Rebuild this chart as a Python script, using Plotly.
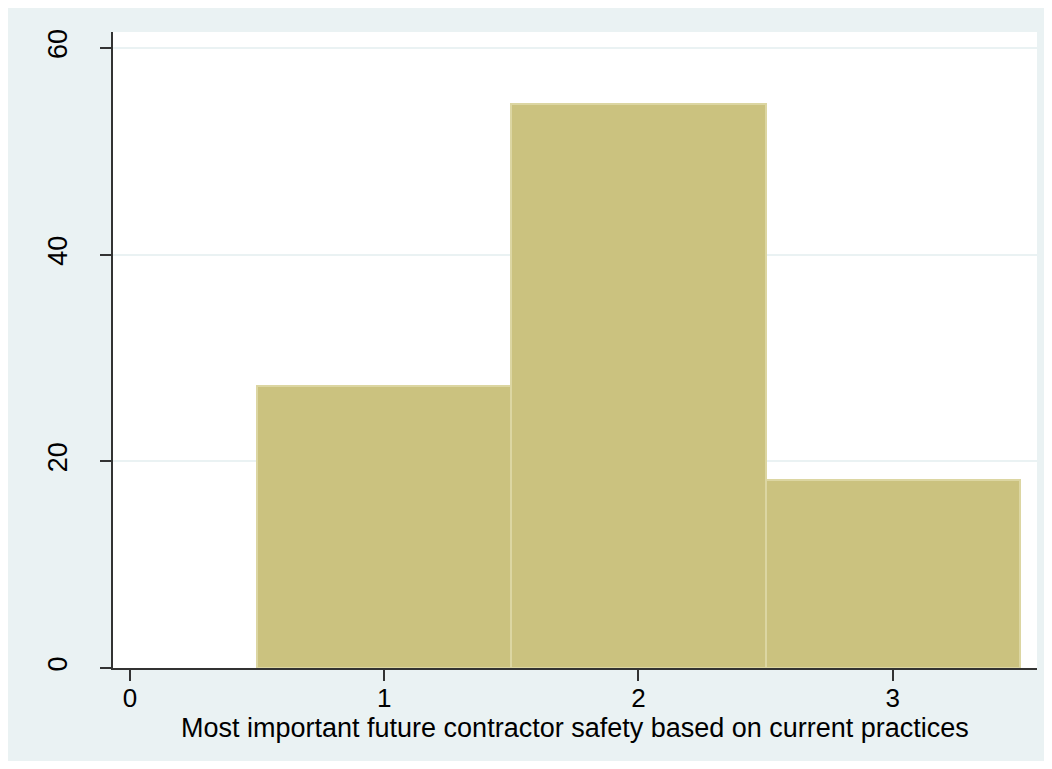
import plotly.graph_objects as go

# Data
categories = [1, 2, 3]
percent = [27.27, 54.55, 18.18]
x_ticks = [0, 1, 2, 3]
y_ticks = [0, 20, 40, 60]
x_title = "Most important future contractor safety based on current practices"

BG = "#EAF2F3"
FILL = "#CBC27F"
EDGE = "#DCD6A2"
FONT = "Liberation Sans, Arial, sans-serif"

fig = go.Figure()
fig.add_trace(go.Bar(
    x=categories, y=percent, width=1,
    marker=dict(color=FILL, line=dict(color=EDGE, width=2)),
    showlegend=False, hoverinfo="x+y",
))

# page body margin is 8px; figure sized so the page fits the window exactly
W, H = 1036, 753
L, R, T, B = 105, 7, 24, 93
ph = H - T - B

fig.add_annotation(
    text=x_title, xref="paper", yref="paper", x=0.5, y=-60 / ph,
    xanchor="center", yanchor="middle", showarrow=False,
    font=dict(size=27, family=FONT, color="black"),
)

fig.update_layout(
    width=W, height=H,
    margin=dict(l=L, r=R, t=T, b=B, pad=0),
    paper_bgcolor=BG, plot_bgcolor="white",
    bargap=0,
    font=dict(family=FONT, size=27, color="black"),
    xaxis=dict(
        range=[-0.067, 3.568], tickvals=x_ticks, ticktext=[str(v) for v in x_ticks],
        showgrid=False, zeroline=False,
        showline=True, linecolor="#333333", linewidth=1.5,
        ticks="outside", ticklen=11, tickwidth=1.5, tickcolor="#333333",
        tickfont=dict(size=26, family=FONT, color="black"),
        ticklabelstandoff=-5,
    ),
    yaxis=dict(
        range=[0, 61.55], tickvals=y_ticks, ticktext=[str(v) for v in y_ticks],
        showgrid=True, gridcolor=BG, gridwidth=2, zeroline=False,
        showline=True, linecolor="#333333", linewidth=1.5,
        ticks="outside", ticklen=11, tickwidth=1.5, tickcolor="#333333",
        tickangle=-90,
        tickfont=dict(size=27, family=FONT, color="black"),
        ticklabelstandoff=22,
    ),
)

fig.write_html("out.html")
